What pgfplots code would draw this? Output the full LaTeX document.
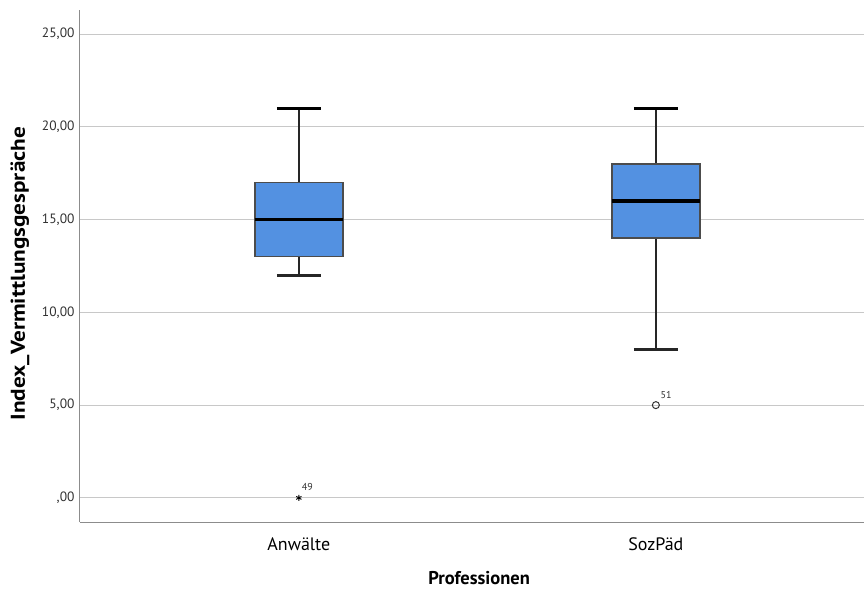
\documentclass[border=0pt]{standalone}
\usepackage{pgfplots}
\pgfplotsset{compat=1.18}
\usepackage{fontspec}
\setmainfont{PT Sans}
\newfontfamily\ylabfont[FakeStretch=1.16]{PT Sans}
\definecolor{boxblue}{RGB}{83,145,225}
\definecolor{gridgray}{RGB}{200,200,200}
\definecolor{axisgray}{RGB}{140,140,140}
\definecolor{ticktext}{RGB}{50,50,50}
\begin{document}
\begin{tikzpicture}
\useasboundingbox (-80pt,-69pt) rectangle (784pt,522pt);
\begin{axis}[
  at={(0,0)}, anchor=south west,
  scale only axis,
  width=784pt, height=512pt,
  xmin=0.387, xmax=2.583,
  ymin=-1.3, ymax=26.3,
  axis x line*=bottom, axis y line*=left,
  axis line style={axisgray, line width=1pt, -},
  xtick={1,2},
  xticklabels={Anwälte, SozPäd},
  xtick style={draw=none},
  ytick={0,5,10,15,20,25},
  yticklabels={{,00},{5,00},{10,00},{15,00},{20,00},{25,00}},
  ytick style={draw=none},
  ymajorgrids,
  major grid style={gridgray, line width=0.9pt},
  yticklabel style={font=\fontsize{13.5}{15}\selectfont, text=ticktext, xshift=-2pt},
  xticklabel style={font=\fontsize{18}{20}\selectfont, text=black, yshift=-12pt},
  xlabel={Professionen},
  ylabel={Index\_Vermittlungsgespräche},
  xlabel style={font=\bfseries\fontsize{18.5}{21}\selectfont, at={(axis description cs:0.509,-0.109)}, anchor=center},
  ylabel style={font=\ylabfont\bfseries\fontsize{20}{22}\selectfont, at={(axis description cs:-0.0765,0.485)}, anchor=center, rotate=0},
  clip=false,
]
% --- Anwälte (x=1): whiskers 12/21, quartiles 13/17, median 15
\addplot[black!85, line width=1.7pt] coordinates {(1,17) (1,21)};
\addplot[black!85, line width=1.7pt] coordinates {(1,12) (1,13)};
\addplot[black, line width=2.6pt] coordinates {(0.9385,21) (1.0615,21)};
\addplot[black!85, line width=2.6pt] coordinates {(0.9385,12) (1.0615,12)};
\addplot[fill=boxblue, draw=black!70, line width=1.4pt] coordinates {(0.87675,13) (1.12325,13) (1.12325,17) (0.87675,17)} -- cycle;
\addplot[black, line width=3.2pt] coordinates {(0.87675,15) (1.12325,15)};
% --- SozPäd (x=2): whiskers 8/21, quartiles 14/18, median 16
\addplot[black!85, line width=1.7pt] coordinates {(2,18) (2,21)};
\addplot[black!85, line width=1.7pt] coordinates {(2,8) (2,14)};
\addplot[black, line width=2.6pt] coordinates {(1.9385,21) (2.0615,21)};
\addplot[black!85, line width=2.6pt] coordinates {(1.9385,8) (2.0615,8)};
\addplot[fill=boxblue, draw=black!70, line width=1.4pt] coordinates {(1.87675,14) (2.12325,14) (2.12325,18) (1.87675,18)} -- cycle;
\addplot[black, line width=3.2pt] coordinates {(1.87675,16) (2.12325,16)};
% --- outliers
\addplot[only marks, mark=asterisk, mark size=3pt, black, line width=0.9pt] coordinates {(1,0)};
\addplot[only marks, mark=o, mark size=3.5pt, black!80, line width=1pt] coordinates {(2,5)};
\node[anchor=south west, font=\fontsize{10}{12}\selectfont, text=ticktext, inner sep=1pt] at (axis cs:1.005,0.3) {49};
\node[anchor=south west, font=\fontsize{10}{12}\selectfont, text=ticktext, inner sep=1pt] at (axis cs:2.01,5.3) {51};
\end{axis}
\end{tikzpicture}
\end{document}
